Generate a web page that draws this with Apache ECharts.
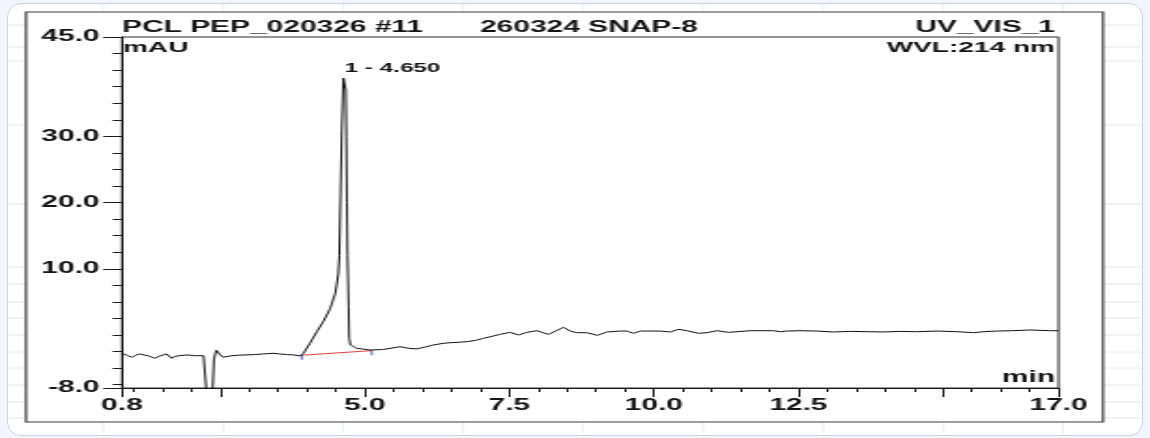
<!DOCTYPE html>
<html>
<head>
<meta charset="utf-8">
<script src="https://cdn.jsdelivr.net/npm/echarts@6/dist/echarts.min.js"></script>
<style>
html,body{margin:0;padding:0;width:1150px;height:438px;overflow:hidden;background:#f2f6fc;}
#frame{position:absolute;left:7px;top:3px;width:1134px;height:431px;border:1px solid #c6d3e8;border-radius:14px;background:#ffffff;}
#main{position:absolute;left:0;top:0;width:615px;height:438px;transform:scaleX(1.86992);transform-origin:0 0;}
</style>
</head>
<body>
<div id="frame"></div>
<div id="main"></div>
<script>
// ---- data ----
const times = [0.80,0.90,0.97,1.04,1.11,1.18,1.26,1.37,1.44,1.49,1.57,1.66,1.72,1.77,1.92,2.06,2.21,2.27,2.33,2.39,2.43,2.46,2.50,2.55,2.67,2.80,2.96,3.10,3.24,3.41,3.53,3.65,3.76,3.88,3.92,3.94,4.05,4.17,4.28,4.40,4.49,4.54,4.56,4.57,4.60,4.63,4.65,4.66,4.67,4.68,4.69,4.70,4.72,4.73,4.75,4.78,4.86,4.95,5.09,5.13,5.30,5.45,5.61,5.75,5.90,6.05,6.19,6.36,6.48,6.62,6.77,6.92,7.05,7.20,7.34,7.51,7.66,7.80,7.98,8.10,8.18,8.30,8.44,8.55,8.67,8.84,9.02,9.19,9.42,9.53,9.65,9.77,10.11,10.28,10.43,10.57,10.77,10.92,11.09,11.29,11.67,12.07,12.19,12.30,12.53,12.82,13.11,13.40,13.70,13.98,14.25,14.55,14.90,15.25,15.53,15.70,15.94,16.20,16.51,16.86,17.00];
const absorbance = [-2.76,-3.10,-3.36,-3.05,-2.86,-3.00,-3.16,-3.51,-3.20,-3.01,-2.86,-3.51,-3.20,-3.01,-3.01,-3.12,-3.12,-3.00,-16.0,-3.60,-2.30,-2.20,-3.00,-3.36,-3.16,-3.05,-3.00,-2.95,-2.86,-2.76,-2.86,-2.95,-3.00,-3.16,-3.15,-2.76,-1.25,0.50,2.00,4.00,6.30,9.10,12.0,16.6,30.7,38.8,39.0,39.0,37.0,30.0,20.0,12.0,4.30,-0.50,-1.50,-1.76,-2.00,-2.10,-2.26,-2.30,-2.20,-2.00,-1.76,-2.00,-2.10,-1.80,-1.50,-1.25,-1.16,-1.10,-1.00,-0.80,-0.50,-0.20,0.10,0.40,0.00,0.40,0.65,0.30,0.10,0.60,1.17,0.60,0.35,0.35,-0.05,0.46,0.60,0.60,0.26,0.60,0.60,0.46,0.86,0.65,0.26,0.35,0.65,0.40,0.65,0.65,0.50,0.60,0.65,0.60,0.46,0.55,0.50,0.46,0.55,0.50,0.60,0.50,0.35,0.50,0.60,0.65,0.76,0.65,0.65];
const baselineT = [3.91, 5.12];
const baselineV = [-3.05, -2.36];
const peakT = 4.65;
const peakV = 39.0;
const peakName = '1 - 4.650';
const xLabelValues = [0.8, 5.0, 7.5, 10.0, 12.5, 17.0];
const xMajorTicks = [0.8, 2.5, 5.0, 7.5, 10.0, 12.5, 15.0, 17.0];
const xMinorTicks = [1.0,1.5,2.0,3.0,3.5,4.0,4.5,5.5,6.0,6.5,7.0,8.0,8.5,9.0,9.5,10.5,11.0,11.5,12.0,13.0,13.5,14.0,14.5,15.5,16.0,16.5];
const yLabelValues = [-8.0, 10.0, 20.0, 30.0, 45.0];
const yMinorTicks = [-7.5,-5,-2.5,0,2.5,5,7.5,12.5,15,17.5,22.5,25,27.5,32.5,35,37.5,40,42.5];
const titleLeft = 'PCL PEP_020326 #11';
const titleMid = '260324 SNAP-8';
const titleRight = 'UV_VIS_1';
const yUnit = 'mAU';
const wavelength = 'WVL:214 nm';
const xUnit = 'min';
const bgVLines = [103,223,343,463,583,703,823,943,1063];
const bgHLines = [25,47,61,125,204,267,284,302,318,335,352,368,385,402,418];

// ---- chart ----
const S = 1150 / 615;
const FONT = '"Liberation Sans", Arial, sans-serif';
const INK = '#141414';
const chart = echarts.init(document.getElementById('main'), null, {renderer: 'canvas'});

const graphics = [];
bgVLines.forEach(x => graphics.push({type:'line', z:-3, silent:true,
  shape:{x1:x/S, y1:4, x2:x/S, y2:434}, style:{stroke:'#e3e6ea', lineWidth:0.7}}));
bgHLines.forEach(y => graphics.push({type:'line', z:-3, silent:true,
  shape:{x1:8/S, y1:y, x2:1141/S, y2:y}, style:{stroke:'#e3e6ea', lineWidth:1}}));
graphics.push({type:'rect', z:-2, silent:true,
  shape:{x:26/S, y:12, width:(1103-26)/S, height:410},
  style:{fill:'#ffffff', stroke:'#3a3a3a', lineWidth:1.2}});
function txt(t, x, y, align, size){
  graphics.push({type:'text', z:10, silent:true, x:x/S, y:y,
    style:{text:t, fill:INK, font:'bold '+size+'px '+FONT, align:align, verticalAlign:'middle'}});
}
txt(titleLeft, 122, 27.5, 'left', 16);
txt(titleMid, 480, 27.5, 'left', 16);
txt(titleRight, 1055, 27.5, 'right', 16);
txt(yUnit, 123, 47.5, 'left', 15);
txt(wavelength, 1055, 47.5, 'right', 15);
txt(xUnit, 1055, 378, 'right', 16);

const gridLeft = 122 / S, gridRight = 1058.5 / S;
const fmt1 = v => Number(v).toFixed(1);

chart.setOption({
  animation: false,
  backgroundColor: 'transparent',
  graphic: graphics,
  grid: {left: gridLeft, top: 37, width: gridRight - gridLeft, height: 351,
    show: true, borderColor: '#2a2a2a', borderWidth: 1, backgroundColor: 'transparent'},
  xAxis: [{
    type: 'value', min: 0.8, max: 17.0,
    axisLine: {show: true, onZero: false, lineStyle: {color: '#1a1a1a', width: 1}},
    axisTick: {show: true, length: 9, customValues: xMajorTicks, lineStyle: {color: '#1a1a1a'}},
    axisLabel: {customValues: xLabelValues, formatter: fmt1, margin: 10,
      color: INK, fontSize: 16, fontWeight: 'bold', fontFamily: FONT},
    splitLine: {show: false}
  }, {
    type: 'value', min: 0.8, max: 17.0, position: 'bottom',
    axisLine: {show: false, onZero: false},
    axisTick: {show: true, length: 4, customValues: xMinorTicks, lineStyle: {color: '#1a1a1a'}},
    axisLabel: {show: false},
    splitLine: {show: false}
  }],
  yAxis: [{
    type: 'value', min: -8, max: 45,
    axisLine: {show: true, onZero: false, lineStyle: {color: '#1a1a1a', width: 1}},
    axisTick: {show: true, length: 10, customValues: yLabelValues, lineStyle: {color: '#1a1a1a'}},
    axisLabel: {customValues: yLabelValues, formatter: fmt1, margin: 12,
      color: INK, fontSize: 16, fontWeight: 'bold', fontFamily: FONT},
    splitLine: {show: false}
  }, {
    type: 'value', min: -8, max: 45, position: 'left',
    axisLine: {show: false, onZero: false},
    axisTick: {show: true, length: 5, customValues: yMinorTicks, lineStyle: {color: '#1a1a1a'}},
    axisLabel: {show: false},
    splitLine: {show: false}
  }],
  series: [{
    type: 'line', xAxisIndex: 0, yAxisIndex: 0,
    data: times.map((t, i) => [t, absorbance[i]]),
    showSymbol: false, clip: true,
    lineStyle: {color: '#111111', width: 1},
    markPoint: {
      symbol: 'circle', symbolSize: 0,
      data: [{coord: [peakT, peakV], value: peakName}],
      label: {show: true, position: 'top', align: 'left', distance: 2,
        formatter: peakName, color: INK, fontSize: 13, fontWeight: 'bold', fontFamily: FONT}
    },
    z: 3
  }, {
    type: 'line', xAxisIndex: 0, yAxisIndex: 0,
    data: baselineT.map((t, i) => [t, baselineV[i]]),
    showSymbol: false,
    lineStyle: {color: '#e2413a', width: 1},
    z: 2
  }, {
    type: 'scatter', xAxisIndex: 0, yAxisIndex: 0,
    data: baselineT.map((t, i) => [t, baselineV[i]]),
    symbol: 'rect', symbolSize: [1, 5], symbolOffset: [0, 2],
    itemStyle: {color: '#2b37b0'},
    z: 4
  }]
});
</script>
</body>
</html>
